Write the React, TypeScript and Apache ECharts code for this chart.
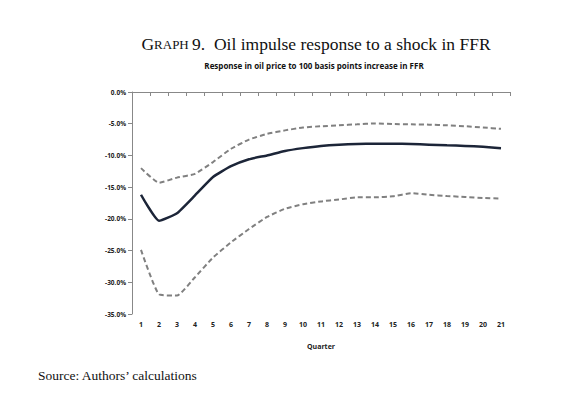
import React, { useEffect, useRef } from "react";
import * as echarts from "echarts";

const quarters = ["1","2","3","4","5","6","7","8","9","10","11","12","13","14","15","16","17","18","19","20","21"];
const response = [-16.2, -20.3, -19.1, -16.3, -13.4, -11.7, -10.6, -10.0, -9.3, -8.85, -8.5, -8.3, -8.2, -8.15, -8.15, -8.2, -8.3, -8.4, -8.5, -8.65, -8.85];
const upperBand = [-12.0, -14.3, -13.5, -12.9, -11.05, -8.95, -7.5, -6.6, -6.05, -5.6, -5.4, -5.25, -5.1, -4.95, -5.05, -5.1, -5.15, -5.25, -5.4, -5.6, -5.8];
const lowerBand = [-24.9, -31.9, -32.1, -29.2, -26.1, -23.7, -21.6, -19.7, -18.4, -17.7, -17.25, -16.95, -16.6, -16.6, -16.45, -15.95, -16.2, -16.4, -16.55, -16.7, -16.8];

const title = "9.  Oil impulse response to a shock in FFR";
const subtitle = "Response in oil price to 100 basis points increase in FFR";
const source = "Source: Authors\u2019 calculations";

export default function App() {
  const ref = useRef<HTMLDivElement>(null);
  useEffect(() => {
    if (!ref.current) return;
    const chart = echarts.init(ref.current, null, { renderer: "svg" });
    const sansBold = { fontFamily: "Open Sans", fontWeight: "bold" as const, color: "#222" };
    chart.setOption({
      animation: false,
      backgroundColor: "#fff",
      graphic: [
        {
          type: "text",
          x: 316,
          y: 44,
          style: {
            text: "{a|G}{b|RAPH} {a|" + title + "}",
            align: "center",
            verticalAlign: "middle",
            rich: {
              a: { fontFamily: "Liberation Serif", fontSize: 17.5, fill: "#111" },
              b: { fontFamily: "Liberation Serif", fontSize: 13, fill: "#111" },
            },
          },
        },
        {
          type: "text",
          x: 314,
          y: 65,
          style: {
            text: subtitle,
            align: "center",
            verticalAlign: "middle",
            fontFamily: "Open Sans",
            fontWeight: "bold",
            fontSize: 8,
            fill: "#111",
          },
        },
        {
          type: "text",
          x: 38,
          y: 375,
          style: {
            text: source,
            verticalAlign: "middle",
            fontFamily: "Liberation Serif",
            fontSize: 13.5,
            fill: "#111",
          },
        },
      ],
      grid: { left: 132, right: 74, top: 92, bottom: 83 },
      xAxis: [
        {
          type: "category",
          data: quarters,
          position: "top",
          boundaryGap: true,
          axisLine: { lineStyle: { color: "#888", width: 1 } },
          axisTick: { show: true, inside: true, length: 4, lineStyle: { color: "#888" } },
          axisLabel: { show: false },
        },
        {
          type: "category",
          data: quarters,
          position: "bottom",
          boundaryGap: true,
          axisLine: { show: false },
          axisTick: { show: false },
          axisLabel: { ...sansBold, fontSize: 7, margin: 7, interval: 0 },
          name: "Quarter",
          nameLocation: "middle",
          nameGap: 29,
          nameTextStyle: { ...sansBold, fontSize: 7 },
        },
      ],
      yAxis: {
        type: "value",
        min: -35,
        max: 0,
        interval: 5,
        axisLine: { show: true, lineStyle: { color: "#888", width: 1 } },
        axisTick: { show: true, length: 4, lineStyle: { color: "#888" } },
        splitLine: { show: false },
        axisLabel: {
          ...sansBold,
          fontSize: 6.5,
          margin: 6,
          formatter: (v: number) => v.toFixed(1) + "%",
        },
      },
      series: [
        {
          type: "line",
          data: upperBand,
          xAxisIndex: 0,
          smooth: 0.15,
          symbol: "none",
          lineStyle: { color: "#808080", width: 2, type: [5, 3] },
        },
        {
          type: "line",
          data: lowerBand,
          xAxisIndex: 0,
          smooth: 0.15,
          symbol: "none",
          lineStyle: { color: "#808080", width: 2, type: [5, 3] },
        },
        {
          type: "line",
          data: response,
          xAxisIndex: 0,
          smooth: 0.15,
          symbol: "none",
          lineStyle: { color: "#1c2538", width: 2.5 },
        },
      ],
    });
    return () => chart.dispose();
  }, []);
  return (
    <div
      ref={ref}
      style={{ position: "fixed", left: 0, top: 0, width: 584, height: 397 }}
    />
  );
}
